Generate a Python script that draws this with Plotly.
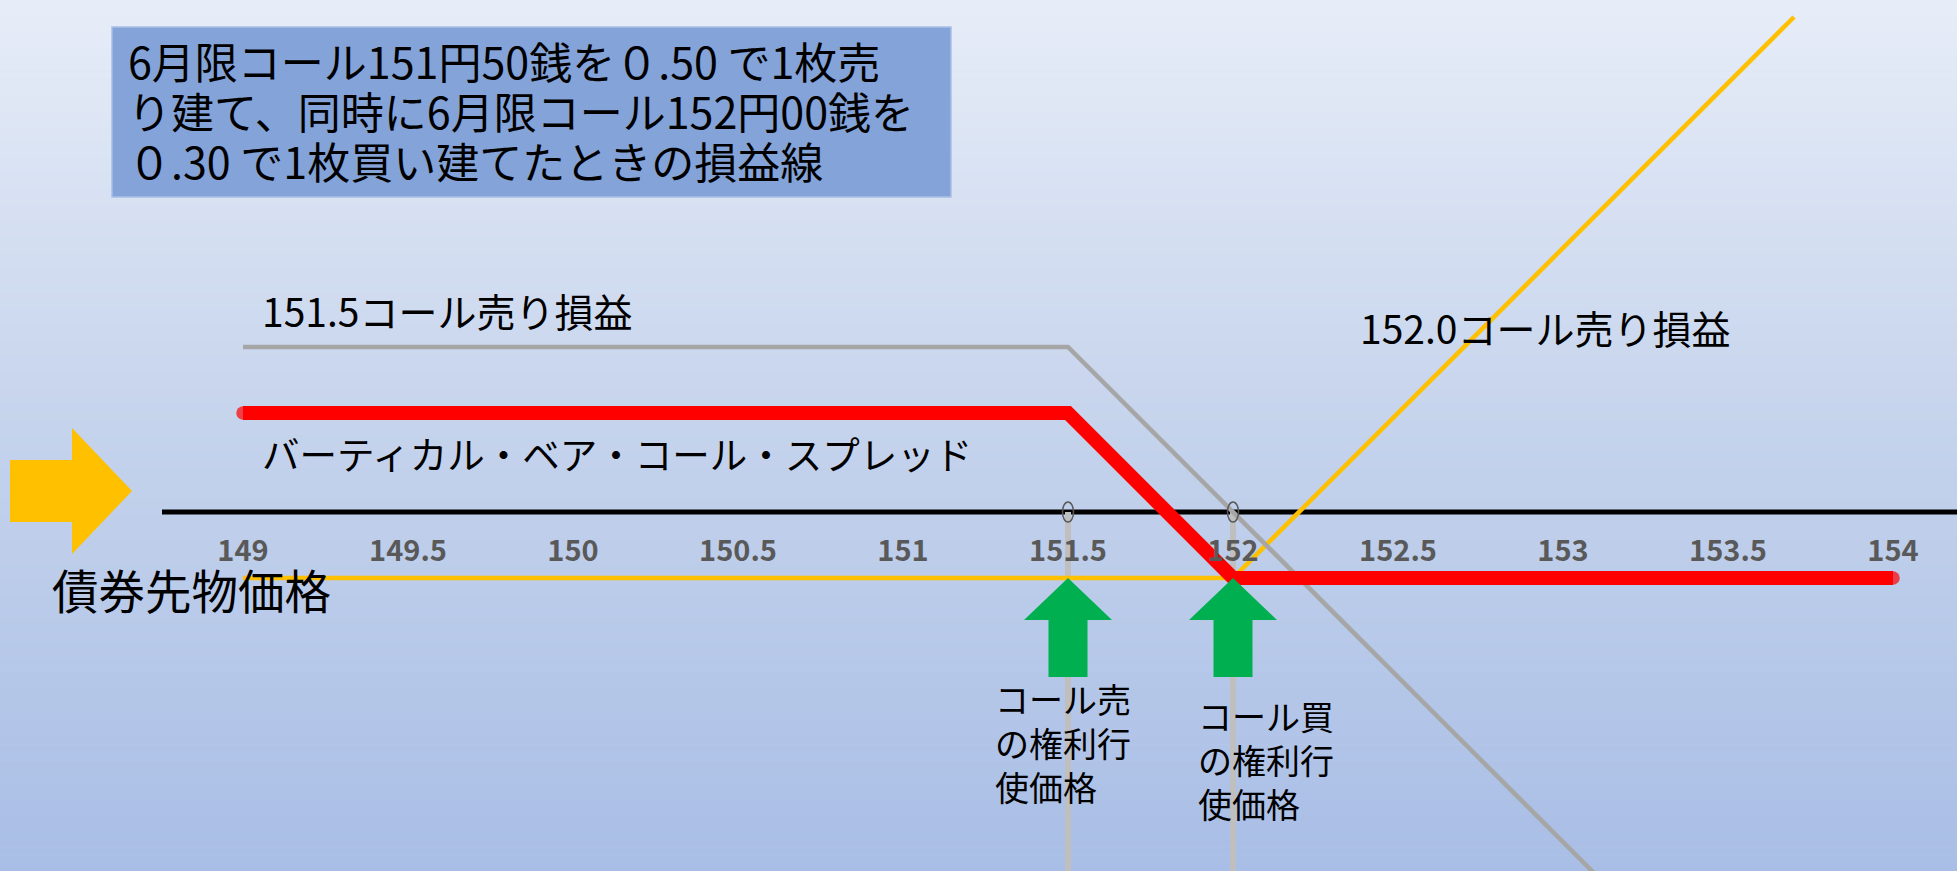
import plotly.graph_objects as go

# ---------------- data ----------------
tick_vals = [149, 149.5, 150, 150.5, 151, 151.5, 152, 152.5, 153, 153.5, 154]
tick_text = ["149", "149.5", "150", "150.5", "151", "151.5", "152", "152.5", "153", "153.5", "154"]

# 151.5 call (short) P&L
sell_x = [149, 151.5, 153.2]
sell_y = [0.5, 0.5, -1.2]

# 152.0 call (long) P&L
buy_x = [149, 152, 153.7]
buy_y = [-0.2, -0.2, 1.5]

# vertical bear call spread P&L
spread_x = [149, 151.5, 152, 154]
spread_y = [0.3, 0.3, -0.2, -0.2]

strikes = [151.5, 152.0]
strike_labels = ["コール売<br>の権利行<br>使価格", "コール買<br>の権利行<br>使価格"]

title_lines = ["6月限コール151円50銭を０.50 で1枚売",
               "り建て、同時に6月限コール152円00銭を",
               "０.30 で1枚買い建てたときの損益線"]

W, H = 1957, 871
FONT = "Noto Sans CJK JP"


def px(x):
    return x / W


def py(y):
    return 1 - y / H


fig = go.Figure()

fig.add_trace(go.Scatter(x=buy_x, y=buy_y, mode="lines",
                         line=dict(color="#FFC000", width=4.5), hoverinfo="skip"))
fig.add_trace(go.Scatter(x=sell_x, y=sell_y, mode="lines",
                         line=dict(color="#A6A6A6", width=4.5), hoverinfo="skip"))
fig.add_trace(go.Scatter(x=spread_x, y=spread_y, mode="lines+markers",
                         line=dict(color="#FF0000", width=14),
                         marker=dict(color="#FF0000", line=dict(width=0),
                                     size=[13.5] + [0] * (len(spread_x) - 2) + [13.5]),
                         hoverinfo="skip"))

shapes = []

# background vertical gradient
stops = [(0, (231, 237, 248)), (430, (197, 211, 236)), (871, (169, 190, 230))]
N = 110
for i in range(N):
    y0 = H * i / N
    y1 = H * (i + 1) / N
    ym = (y0 + y1) / 2
    for (a, ca), (b, cb) in zip(stops[:-1], stops[1:]):
        if a <= ym <= b:
            t = (ym - a) / (b - a)
            c = tuple(round(ca[k] + (cb[k] - ca[k]) * t) for k in range(3))
            break
    shapes.append(dict(type="rect", xref="paper", yref="paper",
                       x0=0, x1=1, y0=py(y1 + 0.5), y1=py(y0),
                       fillcolor="rgb(%d,%d,%d)" % c, line=dict(width=0), layer="below"))

# title box
shapes.append(dict(type="rect", xref="paper", yref="paper",
                   x0=px(112), x1=px(951), y0=py(197), y1=py(27),
                   fillcolor="#84A3D9", line=dict(color="#A9BFE6", width=1.5), layer="below"))

# strike vertical lines
for s in strikes:
    shapes.append(dict(type="line", xref="x", yref="y", x0=s, x1=s, y0=0, y1=-1.3,
                       line=dict(color="#BFBFBF", width=6), layer="below"))

# black price axis line
shapes.append(dict(type="line", xref="paper", yref="y", x0=px(162), x1=1, y0=0, y1=0,
                   line=dict(color="#000000", width=5), layer="below"))

# left yellow arrow
pts = [(10, 460), (72, 460), (72, 428), (132, 491), (72, 554), (72, 522), (10, 522)]
path = "M" + " L".join("%f,%f" % (px(a), py(b)) for a, b in pts) + " Z"
shapes.append(dict(type="path", xref="paper", yref="paper", path=path,
                   fillcolor="#FFC000", line=dict(width=0), layer="above"))

# green arrows and axis ovals at strikes
floor = spread_y[-1]
for s in strikes:
    shapes.append(dict(type="path", xref="x", yref="y",
                       xsizemode="pixel", ysizemode="pixel", xanchor=s, yanchor=floor,
                       path="M0,0 L44,-42 L19.5,-42 L19.5,-99 L-19.5,-99 L-19.5,-42 L-44,-42 Z",
                       fillcolor="#00B050", line=dict(width=0), layer="above"))
    shapes.append(dict(type="circle", xref="x", yref="y",
                       xsizemode="pixel", ysizemode="pixel", xanchor=s, yanchor=0,
                       x0=-5.5, x1=5.5, y0=-10, y1=10,
                       fillcolor="rgba(0,0,0,0)", line=dict(color="#595959", width=1.5),
                       layer="above"))

annotations = []
for i, (line, lx) in enumerate(zip(title_lines, [126, 126, 126])):
    annotations.append(dict(text=line, x=px(lx), y=py(60 + 50 * i), xanchor="left",
                            yanchor="middle", align="left",
                            font=dict(size=43, color="#000000")))
annotations += [
    dict(text="151.5コール売り損益", x=px(260), y=py(310), xanchor="left", yanchor="middle",
         font=dict(size=39, color="#000000")),
    dict(text="バーティカル・ベア・コール・スプレッド", x=px(260), y=py(452),
         xanchor="left", yanchor="middle", font=dict(size=37.5, color="#000000")),
    dict(text="152.0コール売り損益", x=px(1358), y=py(327), xanchor="left", yanchor="middle",
         font=dict(size=39, color="#000000")),
    dict(text="債券先物価格", x=px(50), y=py(588), xanchor="left", yanchor="middle",
         font=dict(size=46.5, color="#000000")),
    dict(text=strike_labels[0], x=px(993), y=py(742), xanchor="left", yanchor="middle",
         align="left", font=dict(size=34, color="#000000")),
    dict(text=strike_labels[1], x=px(1196), y=py(759), xanchor="left", yanchor="middle",
         align="left", font=dict(size=34, color="#000000")),
]
for a in annotations:
    a.update(xref="paper", yref="paper", showarrow=False)
    a["font"]["family"] = FONT

x_left = 149 - 243 / 330
x_right = x_left + W / 330
y_top = 512 / 330
y_bottom = -(H - 512) / 330

fig.update_layout(
    width=W, height=H, autosize=False,
    margin=dict(l=0, r=0, t=0, b=0, pad=0),
    paper_bgcolor="rgb(200,213,237)", plot_bgcolor="rgba(0,0,0,0)",
    showlegend=False,
    font=dict(family=FONT),
    shapes=shapes, annotations=annotations,
    xaxis=dict(range=[x_left, x_right], showgrid=False, zeroline=False, showline=False,
               tickmode="array", tickvals=tick_vals, ticktext=tick_text, ticks="",
               tickfont=dict(size=29, color="#595959", family=FONT, weight="bold"),
               anchor="free", position=1 - 531 / H, fixedrange=True),
    yaxis=dict(range=[y_bottom, y_top], visible=False, showgrid=False, zeroline=False,
               fixedrange=True),
)

fig.write_html("out.html")
